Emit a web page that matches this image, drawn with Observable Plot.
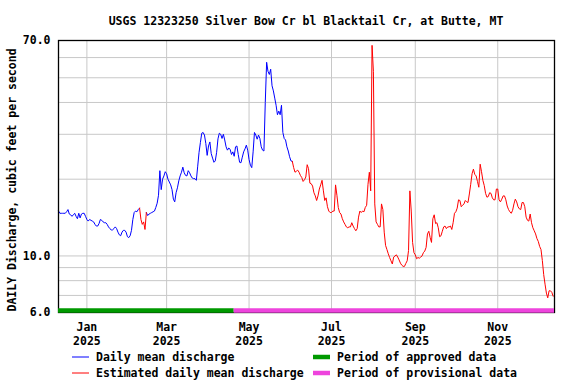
<!DOCTYPE html>
<html><head><meta charset="utf-8">
<script src="https://cdn.jsdelivr.net/npm/d3@7"></script>
<script src="https://cdn.jsdelivr.net/npm/@observablehq/plot@0.6"></script>
<style>
html,body{margin:0;padding:0;background:#fff;}
#chart{width:576px;height:384px;}
</style></head><body><div id="chart"></div>
<script>
const titleText = "USGS 12323250 Silver Bow Cr bl Blacktail Cr, at Butte, MT";
const yAxisLabel = "DAILY Discharge, cubic feet per second";
const startDate = "2024-12-11";
const domainEnd = "2025-12-13";
// daily mean discharge, cfs, one value per day from startDate
const discharge = [
15.0,14.7,14.7,14.7,14.7,14.7,14.9,15.2,14.6,14.5,
14.3,14.5,14.7,14.3,14.0,14.7,14.1,14.6,14.7,14.7,
14.3,13.9,13.7,13.9,13.8,13.7,13.6,13.3,13.1,13.1,
13.4,13.9,13.8,13.6,13.5,13.5,13.3,13.0,12.8,12.65,
12.65,12.8,13.0,12.8,12.4,12.1,12.0,12.4,12.6,12.6,
12.4,11.9,11.8,12.0,12.6,13.9,14.8,15.0,14.9,15.2,
15.4,13.9,13.3,13.6,12.7,14.8,14.4,14.6,14.7,14.8,
14.9,15.0,15.5,16.1,17.3,21.6,18.2,20.0,20.6,21.4,
21.0,20.0,19.5,19.0,18.2,16.7,16.3,17.7,18.5,19.7,
20.6,21.3,22.3,21.2,20.7,20.6,21.6,21.2,20.6,20.2,
20.1,20.1,19.8,22.5,25.5,27.9,30.3,30.5,29.8,27.6,
24.8,27.0,28.0,25.2,24.2,23.3,23.6,25.5,28.8,30.3,
30.0,28.9,30.0,28.5,26.8,26.0,26.5,26.2,25.0,25.6,
24.6,26.8,27.0,25.0,23.3,23.2,24.4,25.6,26.3,27.2,
26.0,23.9,22.7,22.2,25.6,30.5,29.8,28.7,29.8,28.9,
26.8,26.0,25.8,40.0,57.5,53.0,51.5,54.0,46.5,44.4,
41.6,39.0,35.8,37.0,35.8,39.0,30.5,28.9,28.5,26.8,
25.8,24.5,23.6,23.5,22.2,21.3,21.5,21.7,21.3,20.7,
20.3,19.6,19.9,20.4,22.8,22.0,19.3,19.2,18.8,17.7,
17.2,16.5,17.2,18.3,19.0,19.8,18.0,16.5,16.9,15.6,
15.0,14.8,14.8,15.0,15.0,19.0,17.3,15.5,14.8,14.6,
14.0,13.6,13.3,13.0,12.9,13.0,13.0,13.5,13.1,12.8,
12.55,12.8,14.2,15.0,14.8,15.0,14.9,15.5,15.8,19.1,
21.3,18.0,67.0,53.0,16.0,13.6,13.3,13.0,13.0,16.0,
15.2,12.4,11.0,10.6,10.2,9.86,9.57,9.3,9.9,10.0,
10.1,9.9,9.65,9.37,9.2,9.1,9.1,9.35,9.57,10.5,
18.0,15.0,11.3,10.3,10.1,9.75,9.86,9.8,9.9,10.0,
10.3,10.45,10.8,12.2,12.5,11.8,11.3,14.0,14.5,13.4,
13.5,12.9,11.9,12.0,12.5,13.0,13.1,12.8,13.0,13.0,
13.1,12.7,13.5,14.7,14.9,15.4,16.6,16.5,15.6,15.8,
16.0,16.5,16.3,16.2,17.5,19.1,21.0,21.9,20.9,20.6,
19.6,18.6,22.9,21.4,19.8,18.9,17.6,17.0,17.1,17.7,
17.6,16.9,16.6,16.6,18.3,18.3,16.6,16.3,16.7,17.2,
17.2,16.6,15.7,15.2,14.9,14.7,15.1,16.0,16.7,16.3,
15.6,15.3,15.2,16.2,16.2,15.6,14.2,13.8,13.7,14.6,
13.5,12.9,12.55,12.2,11.7,11.4,10.9,10.6,9.6,8.45,
7.75,7.15,6.85,7.3,7.3,7.2,6.95
];
// first and last day of estimated values
const estimatedPeriods = [["2025-02-10","2025-02-13"],["2025-06-03","2025-12-12"]];
const approvalStatus = ["approved","provisional"];
const approvalStart = ["2024-12-11","2025-04-20"];
const approvalEnd = ["2025-04-20","2025-12-13"];
const xTickDates = ["2025-01-01","2025-03-01","2025-05-01","2025-07-01","2025-09-01","2025-11-01"];
const xTickLabels = ["Jan\n2025","Mar\n2025","May\n2025","Jul\n2025","Sep\n2025","Nov\n2025"];
const yTickValues = [6, 10, 70];
const yGridValues = [7, 8, 9, 10, 20, 30, 40, 50, 60, 70];
const legendLine = ["Daily mean discharge","Estimated daily mean discharge"];
const legendBar = ["Period of approved data","Period of provisional data"];

const colors = {blue:"#0000ff", red:"#ff0000", approved:"#009900", provisional:"#ee44dd", grid:"#c8c8c8"};
const FONT = "DejaVu Sans Mono";

const parse = d3.utcParse("%Y-%m-%d");
const t0 = parse(startDate);
const estP = estimatedPeriods.map(([a,b]) => [parse(a), parse(b)]);
const isEst = d => estP.some(([a,b]) => d >= a && d <= b);
const rows = discharge.map((v,i) => ({date: d3.utcDay.offset(t0, i), value: v}));
const segRows = [];
let seg = 0, prevEst = null;
rows.forEach((r, i) => {
  const est = isEst(r.date);
  if (i > 0 && est !== prevEst) {
    if (est) { seg++; segRows.push({...rows[i-1], seg, est: true}); }
    else { segRows.push({...r, seg, est: true}); seg++; }
  }
  segRows.push({...r, seg, est});
  prevEst = est;
});
const approval = approvalStatus.map((s,i) => ({status: s, start: parse(approvalStart[i]), end: parse(approvalEnd[i])}));
const xTicks = xTickDates.map(parse);
const labelOf = new Map(xTicks.map((d,i) => [+d, xTickLabels[i]]));

const svg = Plot.plot({
  width: 576, height: 384,
  marginTop: 40, marginRight: 22, marginBottom: 72, marginLeft: 58,
  style: {fontFamily: FONT, fontWeight: "bold", fontSize: "11.5px", background: "white", color: "black"},
  x: {type: "utc", domain: [t0, parse(domainEnd)], label: null},
  y: {type: "log", domain: [6, 70], label: null},
  color: {type: "identity"},
  marks: [
    Plot.gridX(xTicks, {stroke: colors.grid, strokeOpacity: 1}),
    Plot.gridY(yGridValues, {stroke: colors.grid, strokeOpacity: 1}),
    Plot.line(segRows.filter(d => !d.est), {x: "date", y: "value", z: "seg", stroke: colors.blue, strokeWidth: 1}),
    Plot.line(segRows.filter(d => d.est), {x: "date", y: "value", z: "seg", stroke: colors.red, strokeWidth: 1}),
    Plot.frame({stroke: "black", strokeWidth: 1.3}),
    Plot.ruleY(approval, {y: () => 6, x1: "start", x2: "end", stroke: d => colors[d.status], strokeWidth: 4.5, dy: -2}),
    Plot.axisX(xTicks, {tickFormat: d => labelOf.get(+d), tickSize: 0, tickPadding: 8, lineHeight: 1.25, label: null, fontWeight: "bold"}),
    Plot.axisY(yTickValues, {tickFormat: d3.format(".1f"), tickSize: 0, tickPadding: 8, label: null, fontWeight: "bold"})
  ]
});
document.getElementById("chart").appendChild(svg);

const s = d3.select(svg);
const txt = (x, y, t, anchor) => s.append("text").attr("x", x).attr("y", y).attr("dy", "0.35em")
  .attr("text-anchor", anchor).attr("font-family", FONT).attr("font-weight", "bold").attr("font-size", "11.5px")
  .attr("fill", "black").text(t);
txt(306, 21, titleText, "middle");
s.append("text").attr("transform", "translate(11.5,180) rotate(-90)").attr("dy", "0.35em")
  .attr("text-anchor", "middle").attr("font-family", FONT).attr("font-weight", "bold").attr("font-size", "11.5px")
  .attr("fill", "black").text(yAxisLabel);
const lineCols = [colors.blue, colors.red];
legendLine.forEach((t, i) => {
  const y = 357 + i * 16;
  s.append("line").attr("x1", 72).attr("x2", 89).attr("y1", y).attr("y2", y).attr("stroke", lineCols[i]).attr("stroke-width", 1);
  txt(96, y, t, "start");
});
legendBar.forEach((t, i) => {
  const y = 357 + i * 16;
  s.append("line").attr("x1", 313).attr("x2", 330).attr("y1", y).attr("y2", y).attr("stroke", colors[approvalStatus[i]]).attr("stroke-width", 4.5);
  txt(337, y, t, "start");
});
</script></body></html>
